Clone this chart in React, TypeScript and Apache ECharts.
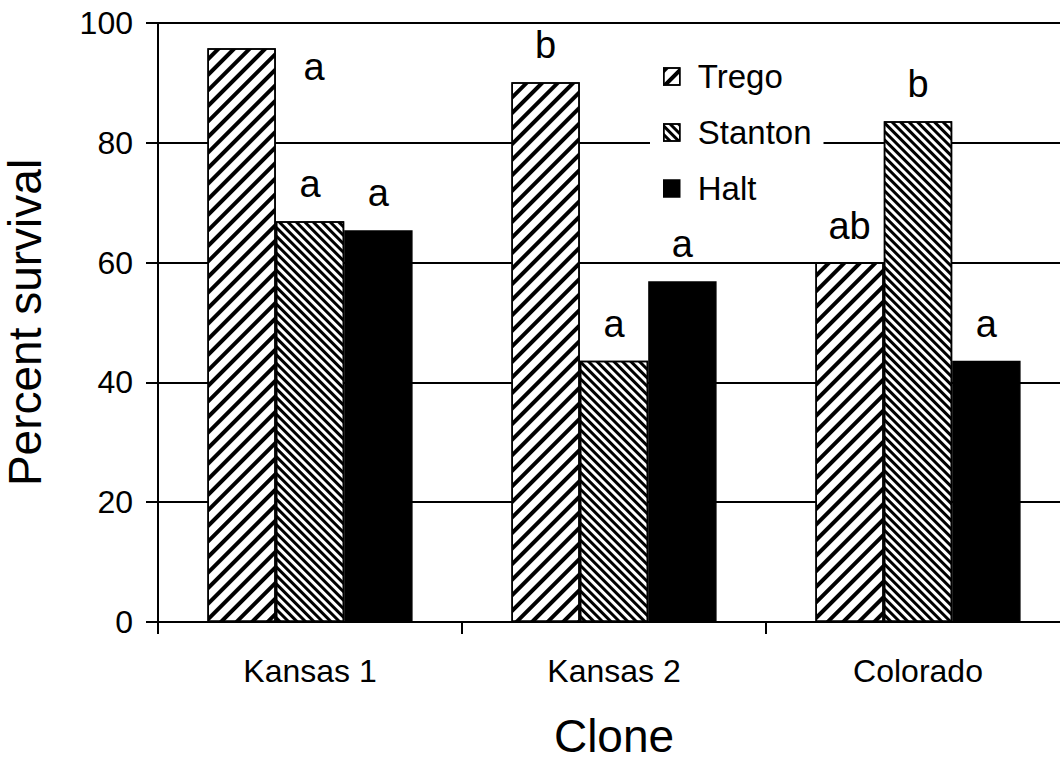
import React, { useEffect, useRef } from "react";
import * as echarts from "echarts";

const categories = ["Kansas 1", "Kansas 2", "Colorado"];
const seriesNames = ["Trego", "Stanton", "Halt"];
const trego = [95.8, 90.1, 60.0];
const stanton = [66.9, 43.6, 83.6];
const halt = [65.4, 56.9, 43.6];
const tregoLetters = ["a", "b", "ab"];
const stantonLetters = ["a", "a", "b"];
const haltLetters = ["a", "a", "a"];
const yTicks = [0, 20, 40, 60, 80, 100];

const FONT = "'Liberation Sans', Arial, Helvetica, sans-serif";

const tregoDecal = {
  symbol: "rect",
  symbolSize: 1,
  color: "#000",
  dashArrayX: [1, 0],
  dashArrayY: [3.2, 6.2],
  rotation: -Math.PI / 4,
};
const stantonDecal = {
  symbol: "rect",
  symbolSize: 1,
  color: "#000",
  dashArrayX: [1, 0],
  dashArrayY: [2.5, 2.7],
  rotation: Math.PI / 4,
};

const labelBase = {
  show: true,
  position: "top",
  distance: 18,
  fontSize: 38,
  fontFamily: FONT,
  color: "#000",
};

function buildData(values: number[], letters: string[], special?: number) {
  return values.map((v, i) => {
    const label: any = { ...labelBase, formatter: letters[i] };
    if (special === i) {
      label.position = [96, 0];
    }
    return { value: v, label };
  });
}

export default function App() {
  const ref = useRef<HTMLDivElement>(null);
  useEffect(() => {
    if (!ref.current) return;
    const chart = echarts.init(ref.current, null, { renderer: "svg" });
    const barStyle = (decal: any, color: string) => ({
      color,
      borderColor: "#000",
      borderWidth: 1.5,
      decal,
    });
    chart.setOption({
      animation: false,
      backgroundColor: "#fff",
      textStyle: { fontFamily: FONT, color: "#000" },
      grid: {
        left: 158,
        top: 23,
        width: 912,
        height: 599,
        containLabel: false,
        outerBoundsMode: "none",
      },
      legend: {
        orient: "vertical",
        left: 650,
        top: 50,
        padding: [10, 12, 10, 13],
        backgroundColor: "#fff",
        itemWidth: 16,
        itemHeight: 17,
        itemGap: 23,
        icon: "rect",
        textStyle: {
          fontSize: 33,
          fontFamily: FONT,
          color: "#000",
          padding: [0, 0, 0, 13],
        },
        data: [
          { name: seriesNames[0], itemStyle: barStyle(tregoDecal, "#fff") },
          { name: seriesNames[1], itemStyle: barStyle(stantonDecal, "#fff") },
          { name: seriesNames[2], itemStyle: barStyle(null, "#000") },
        ],
        z: 5,
      },
      xAxis: {
        type: "category",
        data: categories,
        boundaryGap: true,
        name: "Clone",
        nameLocation: "middle",
        nameGap: 91,
        nameTextStyle: { fontSize: 46, lineHeight: 46, fontFamily: FONT, color: "#000" },
        axisLine: { show: true, lineStyle: { color: "#000", width: 2 } },
        axisTick: { show: true, length: 12, lineStyle: { color: "#000", width: 2 } },
        axisLabel: { fontSize: 32, fontFamily: FONT, color: "#000", margin: 33 },
      },
      yAxis: [
        {
          type: "value",
          min: yTicks[0],
          max: yTicks[yTicks.length - 1],
          interval: 20,
          name: "Percent survival",
          nameLocation: "middle",
          nameGap: 110,
          nameTextStyle: { fontSize: 46, fontFamily: FONT, color: "#000" },
          axisLine: { show: true, lineStyle: { color: "#000", width: 2 } },
          axisTick: { show: true, length: 12, lineStyle: { color: "#000", width: 2 } },
          axisLabel: { fontSize: 32, fontFamily: FONT, color: "#000", margin: 25 },
          splitLine: { show: true, lineStyle: { color: "#000", width: 2 } },
        },
        {
          type: "value",
          position: "left",
          min: yTicks[0],
          max: yTicks[yTicks.length - 1],
          interval: 20,
          axisLine: { show: false },
          axisTick: { show: true, inside: true, length: 11, lineStyle: { color: "#000", width: 2 } },
          axisLabel: { show: false },
          splitLine: { show: false },
        },
      ],
      series: [
        {
          name: seriesNames[0],
          type: "bar",
          barGap: "0%",
          barCategoryGap: "32.5%",
          itemStyle: barStyle(tregoDecal, "#fff"),
          data: buildData(trego, tregoLetters, 0),
        },
        {
          name: seriesNames[1],
          type: "bar",
          barGap: "0%",
          barCategoryGap: "32.5%",
          itemStyle: barStyle(stantonDecal, "#fff"),
          data: buildData(stanton, stantonLetters),
        },
        {
          name: seriesNames[2],
          type: "bar",
          barGap: "0%",
          barCategoryGap: "32.5%",
          itemStyle: barStyle(null, "#000"),
          data: buildData(halt, haltLetters),
        },
      ],
    });
    return () => chart.dispose();
  }, []);
  return (
    <div
      ref={ref}
      style={{ position: "absolute", left: 0, top: 0, width: 1060, height: 764 }}
    />
  );
}
